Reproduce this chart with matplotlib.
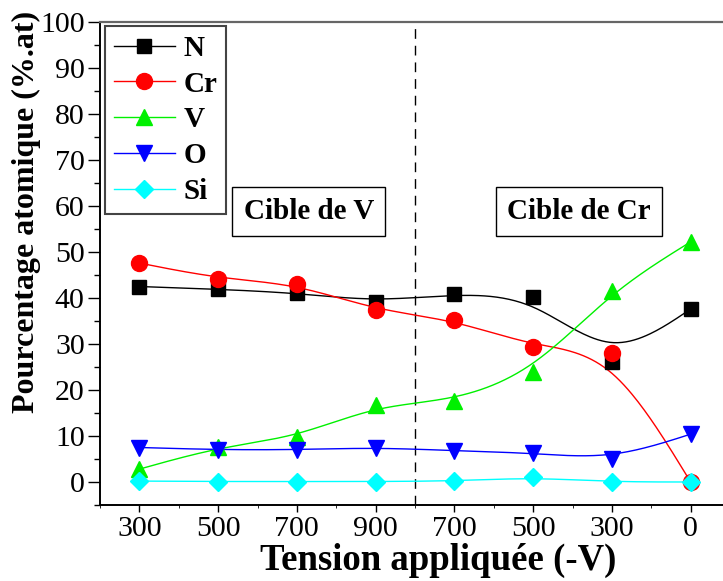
import numpy as np
import matplotlib
matplotlib.use("Agg")
import matplotlib.pyplot as plt
from matplotlib.lines import Line2D

plt.rcParams["font.family"] = ["Liberation Serif", "DejaVu Serif"]

# Applied bias voltage (V target, then Cr target)
tick_labels = ["300", "500", "700", "900", "700", "500", "300", "0"]

N_vals = [42.5, 41.9, 41.1, 39.2, 40.9, 40.3, 26.0, 37.6]
Cr_vals = [47.6, 44.2, 43.1, 37.3, 35.3, 29.4, 28.1, 0.0]
V_vals = [2.8, 7.6, 9.7, 16.7, 17.6, 24.0, 41.6, 52.2]
O_vals = [7.5, 7.0, 7.0, 7.5, 6.8, 6.3, 4.9, 10.4]
Si_vals = [0.2, 0.1, 0.1, 0.1, 0.2, 1.0, 0.0, 0.0]

series = [
    ("N", N_vals, "#000000", "s", 10.5),
    ("Cr", Cr_vals, "#ff0000", "o", 11.5),
    ("V", V_vals, "#00f000", "^", 12),
    ("O", O_vals, "#0000ff", "v", 12),
    ("Si", Si_vals, "#00ffff", "D", 9.5),
]


def bspline_curve(xs, ys, samples=40):
    """Uniform cubic B-spline using the points as control points,
    with reflected end points so the curve starts and ends on the data."""
    P = np.column_stack([xs, ys]).astype(float)
    Q = np.vstack([2 * P[0] - P[1], P, 2 * P[-1] - P[-2]])
    t = np.linspace(0, 1, samples)[:, None]
    b0 = (1 - t) ** 3 / 6
    b1 = (3 * t**3 - 6 * t**2 + 4) / 6
    b2 = (-3 * t**3 + 3 * t**2 + 3 * t + 1) / 6
    b3 = t**3 / 6
    segs = []
    for j in range(len(Q) - 3):
        seg = b0 * Q[j] + b1 * Q[j + 1] + b2 * Q[j + 2] + b3 * Q[j + 3]
        segs.append(seg if j == 0 else seg[1:])
    c = np.vstack(segs)
    return c[:, 0], c[:, 1]


W, H = 723, 581
fig = plt.figure(figsize=(W / 100, H / 100), dpi=100)
ax = fig.add_axes([100 / W, (H - 505) / H, 630 / W, 483 / H])

x = np.arange(len(tick_labels))
handles = []
for name, vals, col, mk, ms in series:
    cx, cy = bspline_curve(x, vals)
    ax.plot(cx, cy, color=col, lw=1.0, zorder=2)
    ax.plot(x, vals, ls="none", marker=mk, ms=ms, color=col,
            markeredgecolor=col, zorder=3)
    handles.append(Line2D([], [], color=col, lw=1.0, marker=mk, ms=ms,
                          markeredgecolor=col, label=name))

ax.axvline(3.5, color="black", lw=1.0, dashes=(7, 5), zorder=1)

ax.set_xlim(-0.5, 7.5)
ax.set_ylim(-5, 100)
ax.set_xticks(x)
ax.set_xticklabels(tick_labels)
ax.set_xticks(np.arange(-0.5, 7.6, 0.5), minor=True)
ax.set_yticks(np.arange(0, 101, 10))
ax.set_yticks(np.arange(-5, 101, 5), minor=True)
ax.tick_params(axis="y", which="major", direction="out", length=9,
               width=1.0, labelsize=21.5, pad=2)
ax.tick_params(axis="y", which="minor", direction="out", length=4, width=1.0)
ax.tick_params(axis="x", which="major", direction="out", length=5,
               width=1.0, labelsize=21.5, pad=3)
ax.tick_params(axis="x", which="minor", direction="out", length=2, width=0.6)

for side in ("left", "bottom"):
    ax.spines[side].set_linewidth(1.4)
    ax.spines[side].set_color("black")
ax.spines["top"].set_color("#666666")
ax.spines["top"].set_linewidth(1.6)
ax.spines["right"].set_visible(False)

ax.set_xlabel("Tension appliquée (-V)", fontsize=26.5, fontweight="bold",
              va="center")
ax.xaxis.set_label_coords(0.537, -0.114)
ax.set_ylabel("Pourcentage atomique (%.at)", fontsize=23, fontweight="bold",
              va="center")
ax.yaxis.set_label_coords(-0.116, 0.607)

leg = ax.legend(handles=handles, loc="upper left",
                bbox_to_anchor=(5 / 630, 1 - 4 / 483), borderaxespad=0,
                prop={"weight": "bold", "size": 21}, handlelength=2.1,
                handletextpad=0.3, labelspacing=0.3, borderpad=0.3,
                fancybox=False, framealpha=1)
leg.get_frame().set_edgecolor("#444444")
leg.get_frame().set_linewidth(1.5)

box = dict(boxstyle="square,pad=0.38", facecolor="white", edgecolor="black",
           linewidth=1.0)
ax.text(2.15, 58.8, "Cible de V", fontsize=21, fontweight="bold",
        ha="center", va="center", bbox=box)
ax.text(5.58, 58.8, "Cible de Cr", fontsize=21, fontweight="bold",
        ha="center", va="center", bbox=box)

fig.savefig("out.png", dpi=100)
